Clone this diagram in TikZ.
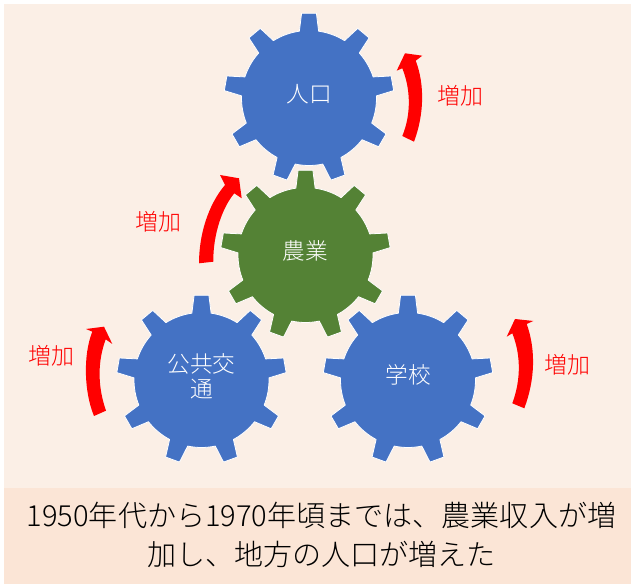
\documentclass[tikz,border=0pt]{standalone}
\usepackage{fontspec}
\setmainfont{Noto Sans CJK JP Light}
\definecolor{pagebg}{HTML}{FBEFE6}
\definecolor{bandbg}{HTML}{FBE5D6}
\definecolor{gearblue}{HTML}{4472C4}
\definecolor{geargreen}{HTML}{548235}
\tikzset{
  x=0.75pt,y=0.75pt,
  gearbody/.style={draw=white,line width=0.6pt,line join=round},
  gearlabel/.style={text=white,inner sep=0pt,align=center,font=\fontsize{17pt}{19pt}\selectfont},
  risearrow/.style={fill=red,draw=none},
  risetext/.style={text=red,inner sep=0pt,font=\fontsize{17.2pt}{20pt}\selectfont},
  captiontext/.style={text=black,inner sep=0pt,align=center,font=\fontsize{21.8pt}{29.2pt}\selectfont}
}
% #1 centre x, #2 centre y (image pixels), #3 colour
\newcommand{\cogwheel}[3]{%
  \begin{scope}[shift={(#1,584-#2)}]
    \filldraw[gearbody,fill=#3] (98.2:67.5)
      \foreach \a in {90,50,10,-30,-70,-110,-150,-190,-230}{
        -- (\a+5:85) -- (\a-5:85) -- (\a-8.2:67.5)
        arc[start angle=\a-8.2,end angle=\a-31.8,radius=67.5]
      } -- cycle;
  \end{scope}}
\begin{document}
\begin{tikzpicture}
  \useasboundingbox (0,0) rectangle (631,584);
  \fill[pagebg] (4,96) rectangle (631,580);
  \fill[bandbg] (4,0) rectangle (631,96);

  \cogwheel{309}{98}{gearblue}
  \cogwheel{305.5}{255}{geargreen}
  \cogwheel{201.5}{380}{gearblue}
  \cogwheel{408}{380}{gearblue}

  \node[gearlabel] (popul) at (309,584-94) {人口};
  \node[gearlabel] (farm) at (305.5,584-251) {農業};
  \node[gearlabel] (transit) at (201.5,584-376) {公共交\\通};
  \node[gearlabel] (school) at (408,584-375) {学校};

  % top right arrow
  \fill[risearrow] (414,584-141.7) .. controls (424,584-115) and (425,584-85) .. (415.7,584-60.7)
    -- (422.3,584-55.7) -- (405,584-53.3) -- (396.7,584-70.7) -- (402.3,584-68.3)
    .. controls (411,584-90) and (411,584-115) .. (402.3,584-136) -- cycle;
  % centre arrow
  \fill[risearrow] (199,584-263.3) .. controls (199,584-235) and (208,584-205) .. (225,584-185)
    -- (220,584-175) -- (239,584-178.3) -- (241.7,584-198.3) -- (234.3,584-193.3)
    .. controls (222,584-208) and (213,584-235) .. (213.3,584-261.7) -- cycle;
  % left arrow
  \fill[risearrow] (94,584-416) .. controls (84,584-392) and (83,584-355) .. (92.3,584-331.7)
    -- (86,584-329) -- (104,584-326.7) -- (112.3,584-344) -- (105.7,584-339.3)
    .. controls (98,584-360) and (97,584-385) .. (106,584-410.7) -- cycle;
  % right arrow
  \fill[risearrow] (524.3,584-408.3) .. controls (535,584-380) and (536,584-350) .. (526.7,584-324)
    -- (533.3,584-321) -- (515,584-319) -- (506.7,584-336.7) -- (512.3,584-333.3)
    .. controls (521,584-355) and (521,584-380) .. (512.3,584-403.3) -- cycle;

  \node[risetext] (riseA) at (460,584-96) {増加};
  \node[risetext] (riseB) at (158,584-222) {増加};
  \node[risetext] (riseC) at (51,584-356) {増加};
  \node[risetext] (riseD) at (567,584-365) {増加};

  \node[captiontext] (caption) at (321.5,584-535) {1950年代から1970年頃までは、農業収入が増\\加し、地方の人口が増えた};
\end{tikzpicture}
\end{document}
